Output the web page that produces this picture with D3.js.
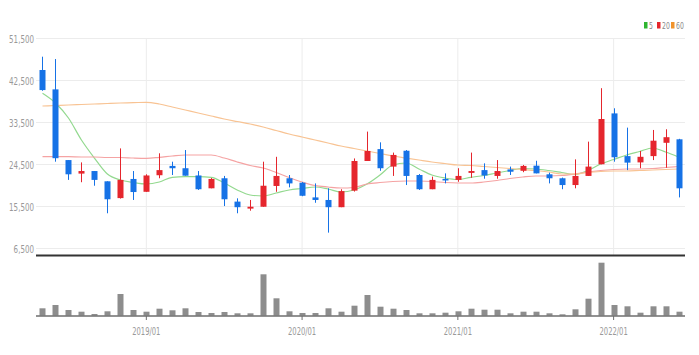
<!DOCTYPE html>
<html><head><meta charset="utf-8">
<script src="https://cdnjs.cloudflare.com/ajax/libs/d3/7.8.5/d3.min.js"></script>
<style>
html,body{margin:0;padding:0;background:#fff;}
svg{display:block;}
text{font-family:"Liberation Sans Narrow","DejaVu Sans Condensed","Liberation Sans",sans-serif;}
</style></head>
<body>
<svg id="chart" width="699" height="355"></svg>
<script>
const months = ["2018/05","2018/06","2018/07","2018/08","2018/09","2018/10","2018/11","2018/12",
"2019/01","2019/02","2019/03","2019/04","2019/05","2019/06","2019/07","2019/08","2019/09","2019/10","2019/11","2019/12",
"2020/01","2020/02","2020/03","2020/04","2020/05","2020/06","2020/07","2020/08","2020/09","2020/10","2020/11","2020/12",
"2021/01","2021/02","2021/03","2021/04","2021/05","2021/06","2021/07","2021/08","2021/09","2021/10","2021/11","2021/12",
"2022/01","2022/02","2022/03","2022/04","2022/05","2022/06"];
const openP  = [44750,40600,25450,22550,23100,20900,17300,21400,18650,22200,24200,23700,22150,19400,21550,16550,15050,15450,19900,21550,
20600,17450,16900,15350,18900,25250,27800,24050,27450,22250,19200,21400,21200,22700,23300,22050,23450,23150,24250,22400,
21550,20100,22050,24550,35450,26300,24950,26300,29150,29900];
const highP  = [47600,47100,25450,24950,23100,20900,27950,23100,22400,26900,25100,27600,23100,21600,22050,17250,16900,25100,26150,22250,
20750,20450,19400,19200,25800,31550,29250,27050,27600,22450,21900,22600,23700,27050,24750,25450,24050,24400,25300,22750,
21700,25600,29400,40850,36550,32400,27400,31900,32050,30000];
const lowP   = [40300,25100,21200,20700,19950,14050,17200,16900,18650,21550,22250,22100,19050,19400,15600,14050,14600,15450,18650,19600,
17700,16300,9900,15350,18700,25250,23150,22050,20100,19050,19200,20450,20800,21650,21450,21450,22250,22850,22600,20450,
19200,19400,22050,24550,25100,23300,23700,25450,23800,17450];
const closeP = [40450,25850,22400,23100,21200,17050,21200,18600,22150,23300,23700,22100,19200,21400,17050,15350,15450,19950,22050,20450,
17800,16900,15350,18800,25250,27400,23700,26550,22050,19200,21200,21100,22050,23100,22150,23100,22950,24200,22600,21550,
20100,22050,24050,34250,26050,24900,26150,29600,30350,19400];
const volume = [740,1070,570,400,170,440,2170,570,400,700,540,740,370,270,370,240,240,4140,1740,440,
270,270,740,400,1000,2070,900,700,570,240,240,300,440,700,600,600,240,400,400,240,
140,640,1700,5300,1070,940,300,940,940,400];
const ma5  = [39760,37680,34460,29750,25890,22460,21180,20640,20320,20750,21760,21890,21890,21760,20540,19040,17960,17750,18390,19040,
19360,19680,19250,18610,19040,20320,22250,24390,24820,23540,22250,21610,21290,21760,22140,22680,23210,23640,23540,23210,
22790,22360,23210,24610,25570,26540,27290,28040,27180,26110];
const ma20 = [26170,26170,26170,26110,26110,26000,26000,25890,25830,26040,26320,26540,26540,26540,25890,25040,24290,23750,22790,21710,
20750,20000,19680,19460,19570,20320,20640,20860,20960,20960,20860,20640,20540,20540,20750,21070,21500,21820,22040,22040,
22140,22460,22890,23210,23430,23540,23540,23640,23860,24070];
const ma60 = [37040,37140,37250,37360,37460,37570,37680,37740,37830,37460,36820,36180,35540,34890,34250,33710,33180,32540,31790,31040,
30390,29750,29110,28460,27930,27390,26860,26320,25890,25460,25040,24710,24390,24290,24070,23860,23640,23430,23210,22890,
22460,22460,22790,23000,23110,23110,23210,23320,23430,23540];
const priceTicks = [6500,15500,24500,33500,42500,51500];
const timeTicks = ["2019/01","2020/01","2021/01","2022/01"];
const legendItems = ["5","20","60"];

const svg = d3.select("#chart");
const upColor = "#e5262d", downColor = "#1672e6";
const maColors = ["#93d98f","#f5a3a3","#f8c393"];
const legendColors = ["#2fb52f","#e5262d","#f0922a"];
const squeeze = 0.72;

const x = d3.scaleBand().domain(months).range([36,685]).padding(0);
const cx = m => x(m) + x.bandwidth()/2;
const y = d3.scaleLinear().domain([6500,51500]).range([248.5,38.5]);
const yv = d3.scaleLinear().domain([0,5300]).range([315.7,262.7]);

// grid
const g = svg.append("g");
g.selectAll("line.h").data(priceTicks).join("line")
  .attr("x1",36).attr("x2",685).attr("y1",d=>y(d)).attr("y2",d=>y(d))
  .attr("stroke","#ececec").attr("stroke-width",1);
g.selectAll("line.v").data(timeTicks).join("line")
  .attr("x1",d=>cx(d)).attr("x2",d=>cx(d)).attr("y1",38.5).attr("y2",255)
  .attr("stroke","#ececec").attr("stroke-width",1);

// price axis labels
const fmt = d3.format(",");
svg.append("g").selectAll("g").data(priceTicks).join("g")
  .attr("transform",d=>`translate(34,${y(d)+0.5}) scale(${squeeze},1)`)
  .append("text").attr("dy","0.35em")
  .attr("text-anchor","end").attr("font-size",11).attr("fill","#999")
  .text(d=>fmt(d));

// MA lines
const series = [ma5, ma20, ma60];
series.forEach((s,k)=>{
  const line = d3.line().x((d,i)=>cx(months[i])).y(d=>y(d)).curve(d3.curveMonotoneX);
  svg.append("path").datum(s).attr("d",line).attr("fill","none")
    .attr("stroke",maColors[k]).attr("stroke-width",1.2);
});

// candles
const idx = d3.range(months.length);
const cg = svg.append("g");
cg.selectAll("line").data(idx).join("line")
  .attr("x1",i=>Math.round(cx(months[i]))+0.5).attr("x2",i=>Math.round(cx(months[i]))+0.5)
  .attr("y1",i=>y(highP[i])).attr("y2",i=>y(lowP[i]))
  .attr("stroke",i=>closeP[i]>=openP[i]?upColor:downColor).attr("stroke-width",1);
const bw = 6;
cg.selectAll("rect").data(idx).join("rect")
  .attr("x",i=>Math.round(cx(months[i]))+0.5-bw/2)
  .attr("width",bw)
  .attr("y",i=>y(Math.max(openP[i],closeP[i])))
  .attr("height",i=>Math.max(1.5,Math.abs(y(openP[i])-y(closeP[i]))))
  .attr("fill",i=>closeP[i]>=openP[i]?upColor:downColor);

// separator
svg.append("line").attr("x1",36).attr("x2",685).attr("y1",255.5).attr("y2",255.5)
  .attr("stroke","#333").attr("stroke-width",2);

// volume
svg.append("g").selectAll("rect").data(idx).join("rect")
  .attr("x",i=>Math.round(cx(months[i]))+0.5-3)
  .attr("width",6)
  .attr("y",i=>yv(volume[i]))
  .attr("height",i=>yv(0)-yv(volume[i]))
  .attr("fill","#8d8d8d");
svg.append("line").attr("x1",36).attr("x2",685).attr("y1",316).attr("y2",316)
  .attr("stroke","#6e6e6e").attr("stroke-width",1.5);

// time axis
const tg = svg.append("g");
tg.selectAll("line").data(timeTicks).join("line")
  .attr("x1",d=>cx(d)).attr("x2",d=>cx(d)).attr("y1",316).attr("y2",320)
  .attr("stroke","#6e6e6e");
tg.selectAll("g").data(timeTicks).join("g")
  .attr("transform",d=>`translate(${cx(d)},335) scale(${squeeze},1)`)
  .append("text").attr("text-anchor","middle")
  .attr("font-size",10.5).attr("fill","#999").text(d=>d);

// legend
const lg = svg.append("g");
const lx = [644,657,671];
legendItems.forEach((t,k)=>{
  lg.append("rect").attr("x",lx[k]).attr("y",22).attr("width",3.5).attr("height",6.5).attr("fill",legendColors[k]);
  lg.append("g").attr("transform",`translate(${lx[k]+5},28.5) scale(${squeeze},1)`)
    .append("text").attr("font-size",9.5).attr("fill","#888").text(t);
});
</script>
</body></html>
